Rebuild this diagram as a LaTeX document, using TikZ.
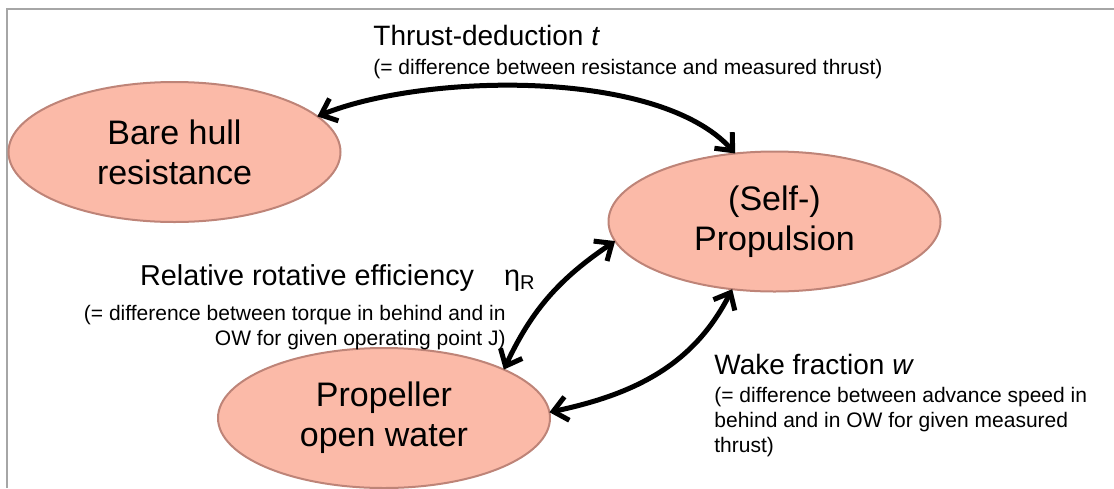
\documentclass[tikz,border=0pt]{standalone}
\usepackage{fontspec}
\setmainfont{Liberation Sans}
\usetikzlibrary{shapes.geometric,arrows.meta}
\definecolor{phasefill}{RGB}{251,186,168}
\definecolor{phaseedge}{RGB}{190,132,120}
\definecolor{framegray}{RGB}{166,166,166}
\newcommand{\titlesize}{\fontsize{14}{16}\selectfont}
\begin{document}
\begin{tikzpicture}[x=0.5pt,y=0.5pt]
    % Define Styles
        \tikzset{
            phase/.style={ellipse, draw=phaseedge, fill=phasefill, line width=1pt, minimum width=166pt, minimum height=70pt, inner sep=0pt, outer sep=0pt, align=center, font=\fontsize{17}{20}\selectfont},
            relation/.style={{Straight Barb[length=7pt,width=12pt]}-{Straight Barb[length=7pt,width=12pt]}, line width=2.5pt},
            remark/.style={inner sep=0pt, font=\fontsize{10.5}{12.5}\selectfont}
        }
        \useasboundingbox (0,0) rectangle (1114,-488);
    % Frame
        \draw[framegray, line width=1pt] (6.5,-488) -- (6.5,-8.5) -- (1114,-8.5);
    % Place nodes
        \node [phase] (bare) at (174.5,-152) {Bare hull\\resistance};
        \node [phase] (selfprop) at (774.5,-221.5) {(Self-)\\Propulsion};
        \node [phase] (prop) at (384,-418) {Propeller\\open water};
    % Labels (anchored at the last line)
        \node [remark, anchor=base west, align=left] (thrust) at (373,-74)
            {{\titlesize Thrust-deduction \textit{t}}\\[2pt](= difference between resistance and measured thrust)};
        \node [remark, anchor=base east, align=right] (rotative) at (506,-345)
            {{\fontsize{14.4}{16}\selectfont Relative rotative efficiency\hspace{15pt}η\textsubscript{R}}\hspace*{-15pt}\\[5pt](= difference between torque in behind and in\\OW for given operating point J)};
        \node [remark, anchor=base west, align=left] (wake) at (714,-452)
            {{\titlesize Wake fraction \textit{w}}\\[1.5pt](= difference between advance speed in\\behind and in OW for given measured\\thrust)};
    % Edges
        \draw[relation] (bare.14) to[out=22, in=132, looseness=0.7] (selfprop.120);
        \draw[relation] (prop.22) to[out=65, in=214] (selfprop.187);
        \draw[relation] (prop.2) to[out=12, in=243] (selfprop.238);
\end{tikzpicture}
\end{document}
